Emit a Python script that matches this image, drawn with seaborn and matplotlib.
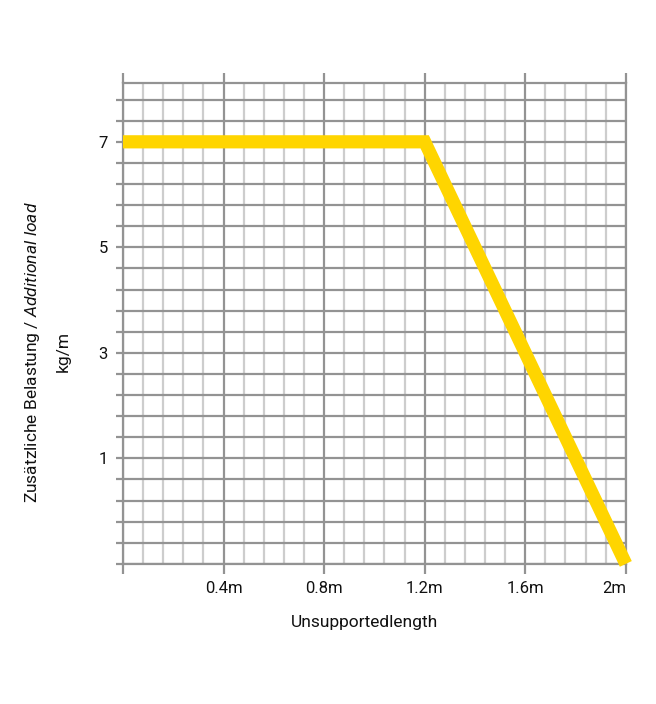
import numpy as np
import pandas as pd
import matplotlib
matplotlib.use("Agg")
import matplotlib.pyplot as plt
import seaborn as sns
from matplotlib.ticker import FixedLocator

# ── Data ───────────────────────────────────────────────────────────────────
length_m = [0.0, 1.2, 2.0]
load_kg = [7.0, 7.0, -1.0]

x_ticks = [0.0, 0.4, 0.8, 1.2, 1.6, 2.0]
x_labels = ["", "0.4m", "0.8m", "1.2m", "1.6m", "2m"]
y_label_pos = [1, 3, 5, 7]

# ── Style ──────────────────────────────────────────────────────────────────
sns.set_style("white")
plt.rcParams["font.family"] = ["Roboto", "DejaVu Sans"]
plt.rcParams["mathtext.fontset"] = "custom"
plt.rcParams["mathtext.rm"] = "Roboto"
plt.rcParams["mathtext.it"] = "Roboto:italic"

DARK = "#939393"
LIGHT = "#cdcdcd"
YELLOW = "#FFD500"

fig = plt.figure(figsize=(6.56, 7.04), dpi=100)
ax = fig.add_axes([0.1875, 0.199, 0.954 - 0.1875, 0.8825 - 0.199])

df = pd.DataFrame({"length": length_m, "load": load_kg})
sns.lineplot(data=df, x="length", y="load", ax=ax, color=YELLOW, lw=9.5,
             sort=False, solid_joinstyle="miter", solid_capstyle="butt",
             clip_on=False, zorder=5)

ax.set_xlim(0, 2.0)
ax.set_ylim(-1, 8.12)

# grid positions
x_minor = np.arange(0, 2.0001, 0.08)
y_lines = np.round(np.arange(-1, 8.0001, 0.4), 2)

ax.xaxis.set_major_locator(FixedLocator(x_ticks))
ax.xaxis.set_minor_locator(FixedLocator(x_minor))
ax.set_xticklabels(x_labels)
labs = ax.get_xticklabels()
labs[-1].set_horizontalalignment("right")

ax.yaxis.set_major_locator(FixedLocator(y_lines))
ax.set_yticklabels([str(int(v)) if v in y_label_pos else "" for v in y_lines])

ax.grid(which="minor", axis="x", color=LIGHT, lw=1.6)
ax.grid(which="major", axis="x", color=DARK, lw=1.6)
ax.grid(which="major", axis="y", color=DARK, lw=1.6)
ax.set_axisbelow(True)

for s in ax.spines.values():
    s.set_color(DARK)
    s.set_linewidth(1.6)

ax.tick_params(axis="x", which="major", bottom=True, top=True, length=7.5,
               width=1.6, color=DARK, labelsize=12, pad=5, labelcolor="#111")
ax.tick_params(axis="x", which="minor", bottom=False, top=False)
ax.tick_params(axis="y", which="major", left=True, length=5, width=1.6,
               color=DARK, labelsize=12, pad=6, labelcolor="#111")

ax.set_xlabel("")
ax.set_ylabel("")

fig.text(365 / 656, 1 - 622 / 704, "Unsupportedlength", ha="center",
         va="center", fontsize=12.5, color="#111")
fig.text(33 / 656, 1 - 352 / 704,
         "Zusätzliche Belastung / $\\mathit{Additional\\ load}$",
         rotation=90, ha="center", va="center", fontsize=12.5, color="#111")
fig.text(63 / 656, 1 - 352 / 704, "kg/m", rotation=90, ha="center",
         va="center", fontsize=12.5, color="#111")

fig.savefig("out.png", dpi=100)
